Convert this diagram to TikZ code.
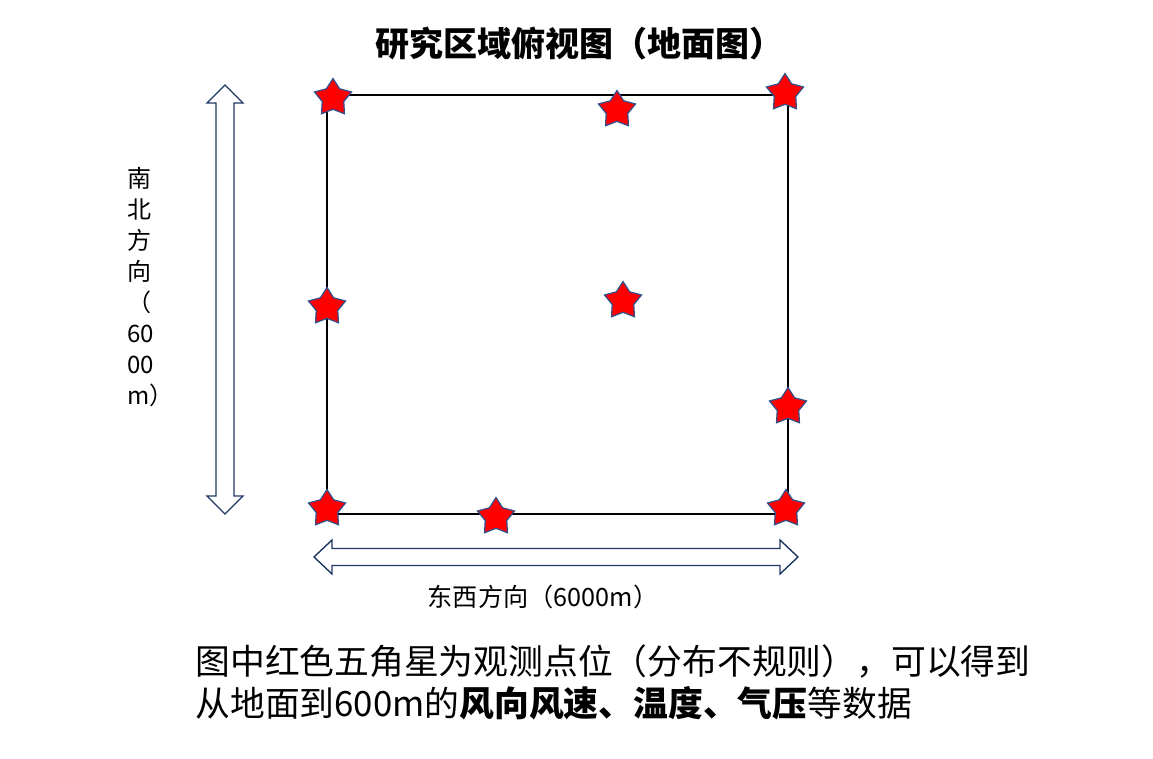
\documentclass[tikz,border=0pt]{standalone}
\usepackage{fontspec}
\setmainfont{Noto Sans CJK SC}
\usetikzlibrary{shapes.geometric}
\definecolor{starline}{HTML}{2F528F}
\definecolor{arrline}{HTML}{203864}
\begin{document}
\begin{tikzpicture}[x=0.5pt,y=-0.5pt,
  obs/.style={star, star points=5, star point ratio=1.72, fill=red, draw=starline, line width=0.6pt, inner sep=0pt, minimum size=19.5pt},
  arr/.style={draw=arrline, fill=white, line width=0.7pt, line join=miter},
  lbl/.style={inner sep=0pt, font=\fontsize{12}{15.5}\selectfont}]
\useasboundingbox (0,0) rectangle (1153,759);
% title
\node[inner sep=0pt, font=\fontsize{17}{20}\selectfont\bfseries] (title) at (579,44) {研究区域俯视图（地面图）};
% study area
\draw[line width=0.75pt] (327,95) rectangle (788,514);
% stars
\node[obs] (s1) at (333,98) {};
\node[obs] (s2) at (617,110) {};
\node[obs] (s3) at (785,93) {};
\node[obs] (s4) at (327,307) {};
\node[obs] (s5) at (623,301) {};
\node[obs] (s6) at (788,407) {};
\node[obs] (s7) at (327,509) {};
\node[obs] (s8) at (496,517) {};
\node[obs] (s9) at (786,509) {};
% vertical double arrow
\draw[arr] (225,85) -- (243,103) -- (234,103) -- (234,496) -- (243,496) -- (225,514) -- (207,496) -- (216,496) -- (216,103) -- (207,103) -- cycle;
% horizontal double arrow
\draw[arr] (314,557) -- (332,540) -- (332,548.5) -- (780,548.5) -- (780,540) -- (798,557) -- (780,574) -- (780,565.5) -- (332,565.5) -- (332,574) -- cycle;
% labels
\node[lbl, align=left, anchor=west] (ns) at (127,287) {南\\北\\方\\向\\（\\60\\00\\m）};
\node[lbl, font=\fontsize{12.6}{15.5}\selectfont] (ew) at (543,597) {东西方向（6000m）};
\node[inner sep=0pt, anchor=west, font=\fontsize{17.4}{21}\selectfont] (l1) at (195,661) {图中红色五角星为观测点位（分布不规则），可以得到};
\node[inner sep=0pt, anchor=west, font=\fontsize{17.4}{21}\selectfont] (l2) at (195,703) {从地面到600m的\textbf{风向风速、温度、气压}等数据};
\end{tikzpicture}
\end{document}
